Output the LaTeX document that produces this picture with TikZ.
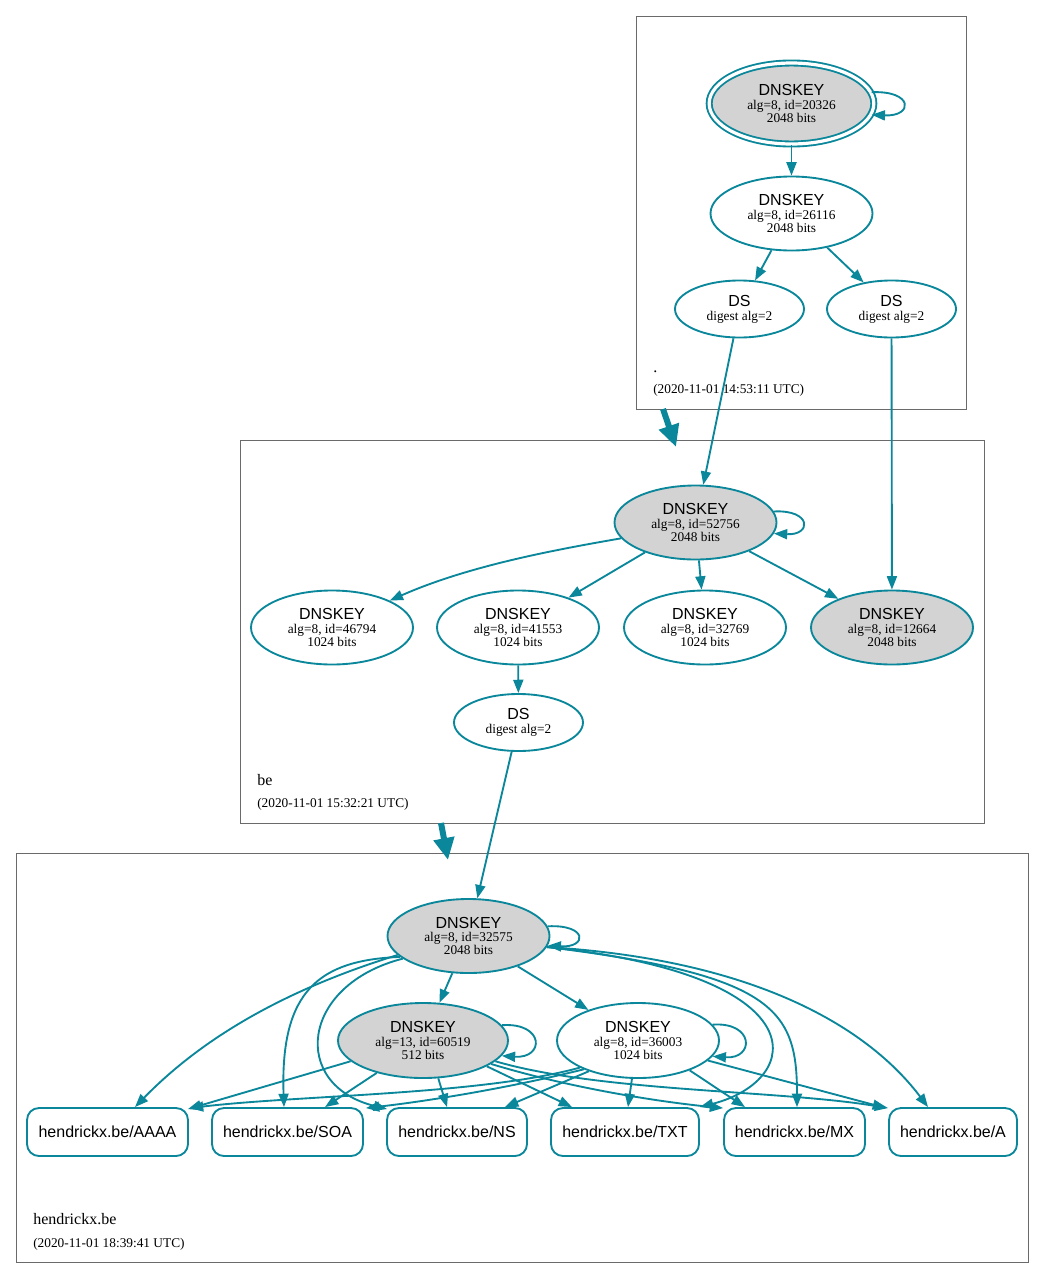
\documentclass[tikz,border=0pt]{standalone}
\usepackage{fontspec}
\setmainfont{Liberation Serif}
\newfontfamily\hsans{Liberation Sans}
\usetikzlibrary{shapes.geometric,arrows.meta,calc}
\definecolor{edgec}{HTML}{0A879A}
\definecolor{keygray}{HTML}{D3D3D3}
\definecolor{clus}{HTML}{6A6A6A}
\newcommand\kt[2]{{\hsans\fontsize{12}{12}\selectfont DNSKEY}\\#1\\#2}
\newcommand\dst{{\hsans\fontsize{12}{12}\selectfont DS}\\digest alg=2}
\begin{document}
\begin{tikzpicture}[x=0.75pt,y=0.75pt,
  key/.style={ellipse, draw=edgec, line width=1.4pt, inner sep=0pt, minimum width=121.5pt, minimum height=55.5pt, align=center, font=\fontsize{10}{9.9}\selectfont},
  sgn/.style={key, fill=keygray},
  dsk/.style={key, minimum width=96.75pt, minimum height=42.75pt, font=\fontsize{10}{10.5}\selectfont},
  rr/.style={rectangle, rounded corners=9pt, draw=edgec, line width=1.4pt, inner sep=0pt, minimum height=36pt, font=\hsans\fontsize{12}{12}\selectfont},
  e/.style={draw=edgec, line width=1.4pt, -{Triangle[length=10pt,width=7.5pt]}},
  bigarrow/.style={draw=edgec, line width=4.5pt, -{Triangle[length=16.5pt,width=15pt]}},
  cl/.style={draw=clus, line width=0.6pt},
  zname/.style={anchor=base west, inner sep=0pt, font=\fontsize{12}{12}\selectfont},
  zdate/.style={anchor=base west, inner sep=0pt, font=\fontsize{10}{10}\selectfont}
]
\useasboundingbox (0,0) rectangle (1044,-1278);
% clusters
\draw[cl] (636,-16) rectangle (966,-409);
\draw[cl] (240,-440) rectangle (984,-823);
\draw[cl] (16,-853) rectangle (1028,-1262);
\node[zname] (lroot) at (653,-372) {.};
\node[zdate] (droot) at (653,-393) {(2020-11-01 14:53:11 UTC)};
\node[zname] (lbe) at (257,-785) {be};
\node[zdate] (dbe) at (257,-807) {(2020-11-01 15:32:21 UTC)};
\node[zname] (lhx) at (33,-1224) {hendrickx.be};
\node[zdate] (dhx) at (33,-1247) {(2020-11-01 18:39:41 UTC)};
% inter-cluster arrows
\coordinate (ta1) at (663,-409);
\coordinate (ha1) at (676,-447);
\coordinate (ta2) at (441,-823);
\coordinate (ha2) at (448,-860);
\draw[bigarrow] (ta1) -- (ha1);
\draw[bigarrow] (ta2) -- (ha2);
% root zone
\node[sgn, double, double distance=2.4pt, minimum width=123.5pt, minimum height=60.75pt] (k20326) at (791.5,-103.5) {\kt{alg=8, id=20326}{2048 bits}};
\node[key] (k26116) at (791.5,-213.5) {\kt{alg=8, id=26116}{2048 bits}};
\node[dsk] (ds1) at (739.5,-309) {\dst};
\node[dsk] (ds2) at (891.5,-309) {\dst};
% be zone
\node[sgn] (k52756) at (695.5,-522.5) {\kt{alg=8, id=52756}{2048 bits}};
\node[key] (k46794) at (332,-627.5) {\kt{alg=8, id=46794}{1024 bits}};
\node[key] (k41553) at (518,-627.5) {\kt{alg=8, id=41553}{1024 bits}};
\node[key] (k32769) at (705,-627.5) {\kt{alg=8, id=32769}{1024 bits}};
\node[sgn] (k12664) at (892,-627.5) {\kt{alg=8, id=12664}{2048 bits}};
\node[dsk] (ds3) at (518.5,-722.5) {\dst};
% hendrickx.be zone
\node[sgn] (k32575) at (468.5,-936) {\kt{alg=8, id=32575}{2048 bits}};
\node[sgn, minimum width=127.5pt, minimum height=56.25pt] (k60519) at (423,-1040.5) {\kt{alg=13, id=60519}{512 bits}};
\node[key, minimum height=56.25pt] (k36003) at (638,-1040.5) {\kt{alg=8, id=36003}{1024 bits}};
\node[rr, minimum width=120.75pt] (aaaa) at (107.5,-1132) {hendrickx.be/AAAA};
\node[rr, minimum width=113.25pt] (soa) at (287.5,-1132) {hendrickx.be/SOA};
\node[rr, minimum width=105pt] (ns) at (457,-1132) {hendrickx.be/NS};
\node[rr, minimum width=111pt] (txt) at (625,-1132) {hendrickx.be/TXT};
\node[rr, minimum width=105.75pt] (mx) at (794.5,-1132) {hendrickx.be/MX};
\node[rr, minimum width=96pt] (a) at (953,-1132) {hendrickx.be/A};
% root edges
\draw[e] (k20326) -- (k26116);
\draw[e] (k20326.8) .. controls ($(k20326.8)+(42,2)$) and ($(k20326.352)+(42,-2)$) .. (k20326.352);
\draw[e] (k26116) -- (ds1);
\draw[e] (k26116) -- (ds2);
\draw[e] (ds1) -- (k52756);
\draw[e] (ds2) -- (k12664);
% be edges
\draw[e] (k52756.8) .. controls ($(k52756.8)+(38,2)$) and ($(k52756.352)+(38,-2)$) .. (k52756.352);
\draw[e] (k52756.192) .. controls (560,-549) and (470,-565) .. (k46794.25);
\draw[e] (k52756) -- (k41553);
\draw[e] (k52756) -- (k32769);
\draw[e] (k52756) -- (k12664);
\draw[e] (k41553) -- (ds3);
\draw[e] (ds3) -- (k32575);
% hendrickx.be edges
\draw[e] (k32575.7) .. controls ($(k32575.7)+(40,2)$) and ($(k32575.353)+(40,-2)$) .. (k32575.353);
\draw[e] (k60519.11) .. controls ($(k60519.11)+(43,3)$) and ($(k60519.349)+(43,-3)$) .. (k60519.349);
\draw[e] (k36003.12) .. controls ($(k36003.12)+(42,3)$) and ($(k36003.348)+(42,-3)$) .. (k36003.348);
\draw[e] (k32575) -- (k60519);
\draw[e] (k32575) -- (k36003);
% from 32575
\draw[e] (k32575.195) .. controls (300,-985) and (210,-1030) .. ($(aaaa.north)+(27.5,0)$);
\draw[e] (k32575.197) .. controls (320,-960) and (280,-990) .. ($(soa.north)+(-3.5,0)$);
\draw[e] (k32575.199) .. controls (300,-985) and (290,-1085) .. ($(ns.north west)+(1,-2)$);
\draw[e] (k32575.352) .. controls (820,-975) and (805,-1080) .. (txt.north east);
\draw[e] (k32575.352) .. controls (775,-975) and (797,-1010) .. ($(mx.north)+(2.5,0)$);
\draw[e] (k32575.352) .. controls (760,-960) and (870,-1030) .. ($(a.north)+(-25,0)$);
% from 60519
\draw[e] (k60519.196) -- ($(aaaa.north east)+(-1,-2)$);
\draw[e] (k60519.215) -- ($(soa.north)+(37.5,0)$);
\draw[e] (k60519.292) -- ($(ns.north)+(-10,0)$);
\draw[e] (k60519.338) -- ($(txt.north)+(-53,0)$);
\draw[e] (k60519.341) .. controls (570,-1088) and (660,-1102) .. ($(mx.north west)+(0,-1)$);
\draw[e] (k60519.344) .. controls (600,-1092) and (780,-1090) .. ($(a.north west)+(0,-1)$);
% from 36003
\draw[e] (k36003.205) .. controls (480,-1095) and (300,-1095) .. ($(aaaa.north east)+(1,-1)$);
\draw[e] (k36003.208) .. controls (500,-1090) and (420,-1102) .. ($(soa.north east)+(2,-1)$);
\draw[e] (k36003.212) -- ($(ns.north)+(48,0)$);
\draw[e] (k36003.261) -- ($(txt.north)+(3,0)$);
\draw[e] (k36003.330) -- ($(mx.north)+(-49.5,0)$);
\draw[e] (k36003.344) -- ($(a.north west)+(-2,-1)$);
\end{tikzpicture}
\end{document}
